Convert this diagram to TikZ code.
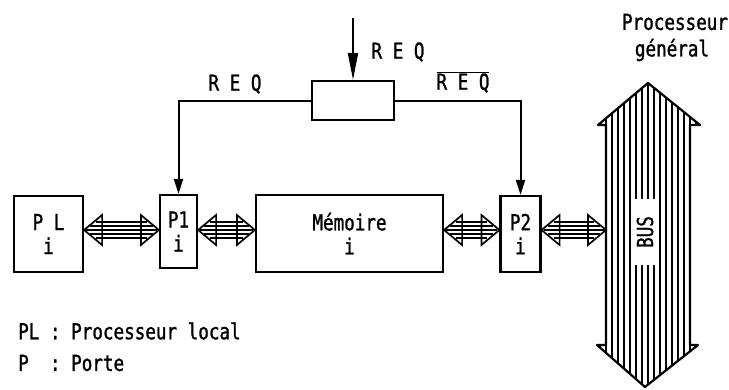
\documentclass[tikz,border=0pt]{standalone}
\usepackage{fontspec}
\newfontfamily\machine[FakeStretch=0.8,FakeBold=1.2]{DejaVu Sans Mono}
\usetikzlibrary{positioning,calc,arrows.meta}

\tikzset{
  unit/.style={draw, line width=2.2pt, align=center, inner sep=0pt,
    font=\machine\fontsize{22}{24}\selectfont},
  busline/.style={line width=1.7pt},
  reqline/.style={line width=2pt},
  lbl/.style={font=\machine\fontsize{22}{24}\selectfont, inner sep=1pt}
}

% double bus arrow between two points
\newcommand{\busarrow}[2]{%
  \draw[busline] (#1) -- ($(#1)+(18,15)$) -- ($(#1)+(18,-15)$) -- cycle
    (#2) -- ($(#2)+(-18,15)$) -- ($(#2)+(-18,-15)$) -- cycle;
  \foreach \k/\s in {-8/12,-4/6,0/2,4/6,8/12}
    \draw[busline] ($(#1)+(\s,\k)$) -- ($(#2)+(-\s,\k)$);
}

\begin{document}
\begin{tikzpicture}[x=1pt,y=-1pt]
  \useasboundingbox (0,0) rectangle (729,389);
  \coordinate (row) at (0,230);

  % local processor, ports, memory
  \node[unit, minimum width=69pt, minimum height=76pt] (PL) at (48.5,234) {P L\\i};
  \node[unit, minimum width=37pt, minimum height=73pt] (P1) at (178.5,231.5) {P1\\i};
  \node[unit, minimum width=187pt, minimum height=77pt] (mem) at (349.5,233.5) {M\'emoire\\i};
  \node[unit, minimum width=40pt, minimum height=76pt] (P2) at (520.5,234) {P2\\i};

  % request control
  \node[unit, minimum width=82pt, minimum height=39pt] (ctrl) at (353,100.5) {};
  \coordinate (reqin) at (353,18);
  \draw[reqline, -{Triangle[length=27pt,width=10pt]}] (reqin) -- (ctrl.north);
  \draw[reqline, -{Triangle[length=15pt,width=9pt]}] (ctrl.west) -| (P1.north);
  \draw[reqline, -{Triangle[length=15pt,width=9pt]}] (ctrl.east) -| (P2.north);
  \node[lbl] (reqa) at (398,52) {R E Q};
  \node[lbl] (reqb) at (235,84) {R E Q};
  \node[lbl] (reqc) at (463,82) {$\overline{\mbox{R E Q}}$};

  % general bus
  \begin{scope}
    \clip (606,125) -- (598,125) -- (648,83) -- (700,125) -- (690,125)
      -- (690,345) -- (698,345) -- (645,387) -- (597,345) -- (606,345) -- cycle;
    \foreach \x in {600,606,...,700}
      \draw[line width=2pt] (\x,80) -- (\x,390);
  \end{scope}
  \draw[line width=2.2pt, line join=round] (606,125) -- (598,125) -- (648,83) -- (700,125) -- (690,125)
    -- (690,345) -- (698,345) -- (645,387) -- (597,345) -- (606,345) -- cycle;
  \node[lbl, fill=white, rotate=90, minimum width=66pt, minimum height=24pt] (bus) at (645,232) {BUS};
  \coordinate (busin) at (606,230);
  \node[lbl] (gp) at (675,22) {Processeur};
  \node[lbl] (gp2) at (672,50) {g\'en\'eral};

  % bus links
  \busarrow{PL.east |- row}{P1.west |- row}
  \busarrow{P1.east |- row}{mem.west |- row}
  \busarrow{mem.east |- row}{P2.west |- row}
  \busarrow{P2.east |- row}{busin}

  % legend
  \node[lbl, anchor=west] (leg1) at (17,331) {PL : Processeur local};
  \node[lbl, anchor=west] (leg2) at (17,363) {P\ \ : Porte};
\end{tikzpicture}
\end{document}
